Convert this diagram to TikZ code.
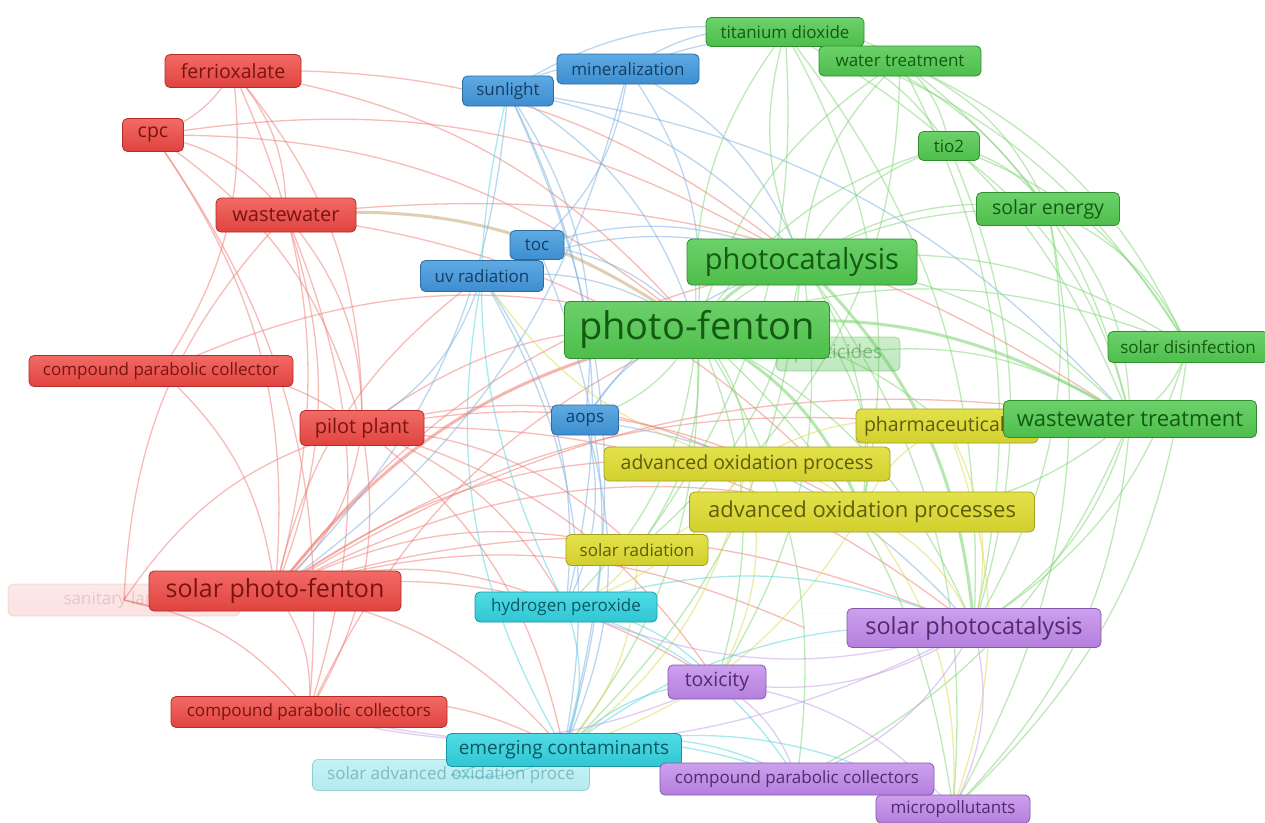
\documentclass[tikz,border=0pt]{standalone}
\usepackage{fontspec}
\setmainfont{Open Sans}
\newcommand\fsz[1]{\fontsize{#1}{#1}\selectfont}
\definecolor{rtop}{HTML}{F26A65}\definecolor{rbot}{HTML}{E0443F}\definecolor{rdk}{HTML}{B52B27}\definecolor{rtx}{HTML}{7A1411}
\definecolor{btop}{HTML}{5EAAE3}\definecolor{bbot}{HTML}{3E8DCF}\definecolor{bdk}{HTML}{2B6CA3}\definecolor{btx}{HTML}{123E63}
\definecolor{gtop}{HTML}{6CD16A}\definecolor{gbot}{HTML}{4DBE4B}\definecolor{gdk}{HTML}{2F8F2E}\definecolor{gtx}{HTML}{135A12}
\definecolor{ytop}{HTML}{E3E14A}\definecolor{ybot}{HTML}{D2D02E}\definecolor{ydk}{HTML}{A3A11C}\definecolor{ytx}{HTML}{5E5D0A}
\definecolor{ctop}{HTML}{4FDCE6}\definecolor{cbot}{HTML}{30C6D3}\definecolor{cdk}{HTML}{1A97A3}\definecolor{ctx}{HTML}{0C5860}
\definecolor{ptop}{HTML}{CDA0EE}\definecolor{pbot}{HTML}{B47FDD}\definecolor{pdk}{HTML}{8659AE}\definecolor{ptx}{HTML}{502B6E}
\definecolor{rel}{HTML}{F07A70}\definecolor{bel}{HTML}{78AEE0}\definecolor{gel}{HTML}{7CD470}
\definecolor{yel}{HTML}{DADA50}\definecolor{cel}{HTML}{50D4DE}\definecolor{pel}{HTML}{C49AE8}
\definecolor{tan}{HTML}{C8A870}
\tikzset{
  lbl/.style={rounded corners=5pt, draw, line width=0.8pt, inner sep=0pt, align=center},
  rn/.style={lbl, draw=rdk, top color=rtop, bottom color=rbot, text=rtx},
  bn/.style={lbl, draw=bdk, top color=btop, bottom color=bbot, text=btx},
  gn/.style={lbl, draw=gdk, top color=gtop, bottom color=gbot, text=gtx},
  yn/.style={lbl, draw=ydk, top color=ytop, bottom color=ybot, text=ytx},
  cn/.style={lbl, draw=cdk, top color=ctop, bottom color=cbot, text=ctx},
  pn/.style={lbl, draw=pdk, top color=ptop, bottom color=pbot, text=ptx},
  faded/.style={opacity=0.15},
  semifaded/.style={opacity=0.35},
  edge/.style={line width=1.3pt, draw opacity=0.5, bend left=20},
  re/.style={edge, draw=rel}, be/.style={edge, draw=bel}, ge/.style={edge, draw=gel},
  ye/.style={edge, draw=yel}, ce/.style={edge, draw=cel}, pe/.style={edge, draw=pel},
  thk/.style={line width=3pt, draw opacity=0.55}
}
\begin{document}
\begin{tikzpicture}[x=1pt,y=-1pt]
\useasboundingbox[fill=white] (0,0) rectangle (1265,822);
% ---------- node anchors ----------
\path
 node[minimum width=136, minimum height=33] (ferri) at (233,71) {}
 node[minimum width=61, minimum height=33] (cpc) at (153,135) {}
 node[minimum width=140, minimum height=34] (ww) at (286,215) {}
 node[minimum width=264, minimum height=31] (cpcr) at (161,371) {}
 node[minimum width=124, minimum height=35] (pilot) at (362,428) {}
 node[minimum width=252, minimum height=40] (spf) at (275,591) {}
 node[minimum width=232, minimum height=32] (sanit) at (124,600) {}
 node[minimum width=276, minimum height=31] (cpcsr) at (309,712) {}
 node[minimum width=91, minimum height=30] (sun) at (508,91) {}
 node[minimum width=142, minimum height=30] (mineral) at (628,69) {}
 node[minimum width=54, minimum height=29] (toc) at (537,245) {}
 node[minimum width=123, minimum height=31] (uvr) at (482,276) {}
 node[minimum width=67, minimum height=30] (aops) at (585,420) {}
 node[minimum width=158, minimum height=29] (tio2d) at (785,32) {}
 node[minimum width=162, minimum height=30] (wt) at (900,61) {}
 node[minimum width=61, minimum height=29] (tio2) at (949,146) {}
 node[minimum width=143, minimum height=33] (senergy) at (1048,209) {}
 node[minimum width=230, minimum height=46] (pcat) at (802,262) {}
 node[minimum width=265, minimum height=57] (pf) at (697,330) {}
 node[minimum width=124, minimum height=34] (pest) at (838,354) {}
 node[minimum width=160, minimum height=31] (sdis) at (1188,347) {}
 node[minimum width=253, minimum height=37] (wwt) at (1130,419) {}
 node[minimum width=182, minimum height=34] (pharma) at (947,426) {}
 node[minimum width=286, minimum height=34] (aop) at (747,464) {}
 node[minimum width=345, minimum height=40] (aops2) at (862,512) {}
 node[minimum width=142, minimum height=31] (srad) at (637,550) {}
 node[minimum width=182, minimum height=30] (h2o2) at (566,607) {}
 node[minimum width=235, minimum height=33] (ec) at (564,750) {}
 node[minimum width=277, minimum height=31] (saop) at (451,775) {}
 node[minimum width=254, minimum height=39] (spc) at (974,628) {}
 node[minimum width=98, minimum height=34] (tox) at (717,682) {}
 node[minimum width=274, minimum height=32] (cpcp) at (797,779) {}
 node[minimum width=154, minimum height=28] (micro) at (953,809) {}
 node[minimum width=110, minimum height=30] (faint) at (805,628) {};
% ---------- edges ----------
\foreach \a/\b in {ferri/cpc, ferri/ww, ferri/pf, ferri/spf, ferri/pilot, ferri/pcat, ferri/cpcr, cpc/ww, cpc/pf, cpc/spf, cpc/pilot, cpc/cpcsr, cpc/pcat, ww/spf, ww/pilot, ww/cpcsr, ww/aops2, ww/wwt, cpcr/pilot, cpcr/spf, cpcr/pf, pilot/spf, pilot/pf, pilot/aop, pilot/aops2, pilot/h2o2, pilot/cpcsr, pilot/srad, pilot/ec, pilot/spc, spf/aop, spf/aops2, spf/h2o2, spf/srad, spf/ec, spf/cpcsr, spf/sanit, spf/tox, spf/spc, spf/pcat, spf/pharma, spf/wwt, spf/uvr, cpcsr/pf, cpcsr/ec, sanit/pilot, sanit/cpcsr, sanit/ww, spf/faint, pilot/tox}
  \draw[re] (\a.center) to (\b.center);
\draw[re,thk] (spf.center) to (pf.center);
\draw[edge,thk,draw=tan] (ww.center) to (pf.center);
\foreach \a/\b in {sun/pf, sun/mineral, sun/ec, sun/h2o2, sun/aops, sun/spf, sun/pcat, sun/tio2d, mineral/pf, mineral/pcat, mineral/toc, mineral/tio2d, mineral/spf, toc/pf, toc/uvr, toc/ec, toc/pcat, uvr/pf, uvr/pilot, uvr/h2o2, uvr/ec, uvr/pcat, aops/pf, aops/ec, aops/h2o2, aops/spc, aops/pcat, mineral/wt, sun/wwt}
  \draw[be] (\a.center) to (\b.center);
\foreach \a/\b in {pf/tio2d, pf/wt, pf/tio2, pf/senergy, pf/sdis, pf/aop, pf/srad, pf/spc, pf/tox, pf/ec, pf/cpcp, pf/micro, pf/h2o2, pf/pest, pf/pharma, pcat/tio2d, pcat/wt, pcat/tio2, pcat/senergy, pcat/sdis, pcat/wwt, pcat/aops2, pcat/ec, pcat/micro, pcat/tox, tio2d/wt, tio2d/tio2, tio2d/senergy, tio2d/wwt, tio2d/spc, tio2d/sdis, tio2d/aops2, wt/tio2, wt/senergy, wt/wwt, wt/sdis, wt/spc, tio2/senergy, tio2/sdis, tio2/spc, tio2/wwt, senergy/sdis, senergy/wwt, senergy/spc, senergy/micro, sdis/wwt, sdis/spc, sdis/micro, wwt/spc, wwt/micro, wwt/aops2, wwt/cpcp, pest/aops2, pest/wwt, pf/aops, pcat/srad, tio2d/srad, wt/aop}
  \draw[ge] (\a.center) to (\b.center);
\foreach \a/\b in {pf/pcat, pf/wwt, pf/aops2, pcat/spc}
  \draw[ge,thk] (\a.center) to (\b.center);
\foreach \a/\b in {aop/aops2, aop/pharma, aops2/pharma, aops2/ec, aop/srad, srad/ec, pharma/micro, aops2/spc, aop/tox, aop/ec, aops2/micro, srad/h2o2, pharma/spc, aop/h2o2, aop/uvr}
  \draw[ye] (\a.center) to (\b.center);
\foreach \a/\b in {h2o2/ec, ec/saop, ec/tox, ec/cpcp, ec/micro, h2o2/tox, ec/spc, h2o2/spc, h2o2/cpcp, saop/cpcp, h2o2/sun, ec/uvr}
  \draw[ce] (\a.center) to (\b.center);
\foreach \a/\b in {spc/tox, spc/cpcp, spc/micro, tox/cpcp, tox/micro, cpcp/micro, spc/cpcsr, tox/cpcsr, spc/h2o2}
  \draw[pe] (\a.center) to (\b.center);
% ---------- labels ----------
\node[rn, faded, minimum width=232, minimum height=32, font=\fsz{17}] at (sanit) {sanitary landfill};
\node[rn, minimum width=136, minimum height=33, font=\fsz{19.5}] at (ferri) {ferrioxalate};
\node[rn, minimum width=61, minimum height=33, font=\fsz{19.5}] at (cpc) {cpc};
\node[rn, minimum width=140, minimum height=34, font=\fsz{20}] at (ww) {wastewater};
\node[rn, minimum width=264, minimum height=31, font=\fsz{17}] at (cpcr) {compound parabolic collector};
\node[rn, minimum width=124, minimum height=35, font=\fsz{20}] at (pilot) {pilot plant};
\node[rn, minimum width=252, minimum height=40, font=\fsz{25}] at (spf) {solar photo-fenton};
\node[rn, minimum width=276, minimum height=31, font=\fsz{17}] at (cpcsr) {compound parabolic collectors};
\node[bn, minimum width=91, minimum height=30, font=\fsz{17}] at (sun) {sunlight};
\node[bn, minimum width=142, minimum height=30, font=\fsz{17}] at (mineral) {mineralization};
\node[bn, minimum width=54, minimum height=29, font=\fsz{17}] at (toc) {toc};
\node[bn, minimum width=123, minimum height=31, font=\fsz{17}] at (uvr) {uv radiation};
\node[bn, minimum width=67, minimum height=30, font=\fsz{17}] at (aops) {aops};
\node[gn, minimum width=158, minimum height=29, font=\fsz{17}] at (tio2d) {titanium dioxide};
\node[gn, minimum width=162, minimum height=30, font=\fsz{17}] at (wt) {water treatment};
\node[gn, minimum width=61, minimum height=29, font=\fsz{17}] at (tio2) {tio2};
\node[gn, minimum width=143, minimum height=33, font=\fsz{19.5}] at (senergy) {solar energy};
\node[gn, minimum width=230, minimum height=46, font=\fsz{29}] at (pcat) {photocatalysis};
\node[gn, semifaded, minimum width=124, minimum height=34, font=\fsz{19}] at (pest) {pesticides};
\node[gn, minimum width=265, minimum height=57, font=\fsz{38}] at (pf) {photo-fenton};
\node[gn, minimum width=160, minimum height=31, font=\fsz{17}] at (sdis) {solar disinfection};
\node[yn, minimum width=182, minimum height=34, font=\fsz{19.5}, text width=166, align=left] at (pharma) {pharmaceuticals};
\node[gn, minimum width=253, minimum height=37, font=\fsz{22}] at (wwt) {wastewater treatment};
\node[yn, minimum width=286, minimum height=34, font=\fsz{19.5}] at (aop) {advanced oxidation process};
\node[yn, minimum width=345, minimum height=40, font=\fsz{22}] at (aops2) {advanced oxidation processes};
\node[yn, minimum width=142, minimum height=31, font=\fsz{17}] at (srad) {solar radiation};
\node[cn, minimum width=182, minimum height=30, font=\fsz{17}] at (h2o2) {hydrogen peroxide};
\node[cn, semifaded, minimum width=277, minimum height=31, font=\fsz{17}] at (saop) {solar advanced oxidation proce};
\node[cn, minimum width=235, minimum height=33, font=\fsz{19}] at (ec) {emerging contaminants};
\node[lbl, draw=gray, fill=white, opacity=0.06, minimum width=110, minimum height=30] at (faint) {};
\node[pn, minimum width=254, minimum height=39, font=\fsz{23.5}] at (spc) {solar photocatalysis};
\node[pn, minimum width=98, minimum height=34, font=\fsz{19.5}] at (tox) {toxicity};
\node[pn, minimum width=154, minimum height=28, font=\fsz{17}] at (micro) {micropollutants};
\node[pn, minimum width=274, minimum height=32, font=\fsz{17}] at (cpcp) {compound parabolic collectors};
\end{tikzpicture}
\end{document}
